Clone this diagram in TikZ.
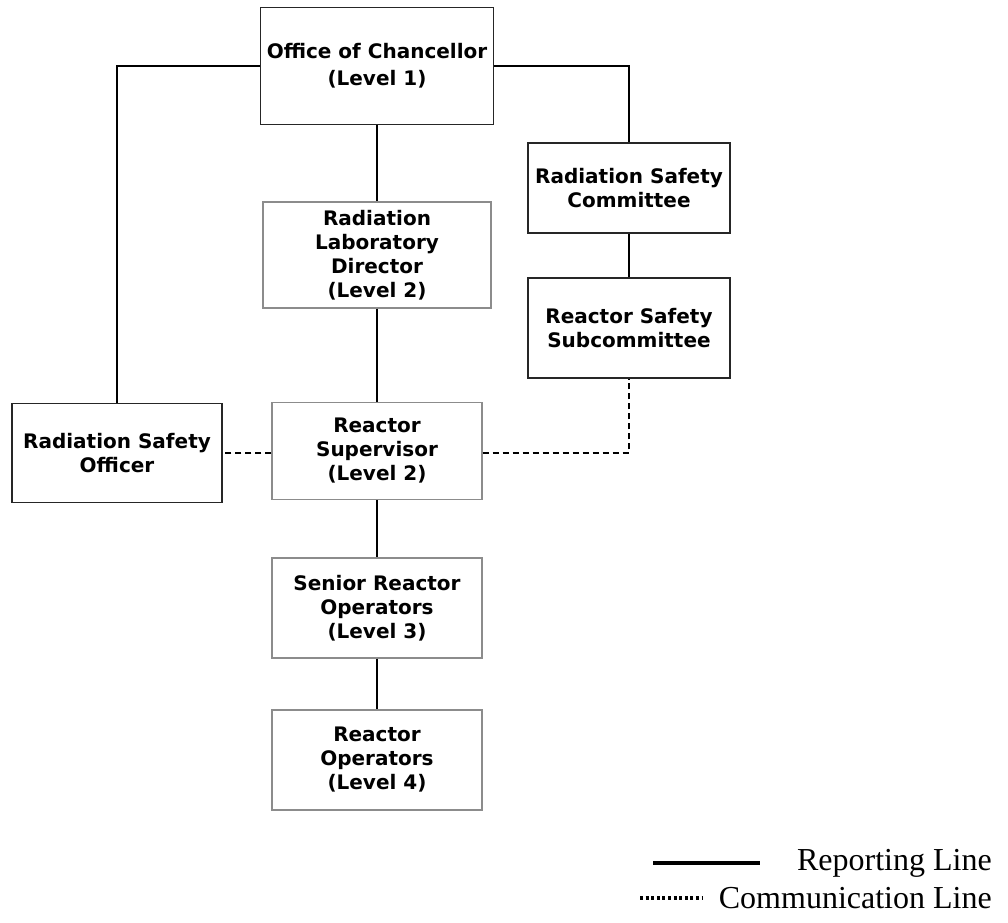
\documentclass[tikz,border=0pt]{standalone}
\usepackage{fontspec}
\setmainfont{Liberation Serif}
\newfontfamily\unitfont{DejaVu Sans}
\usetikzlibrary{positioning}

\begin{document}
\begin{tikzpicture}[x=0.75pt,y=-0.75pt,
    unit/.style={draw=black!85, line width=1pt, inner sep=0pt, align=center,
        font=\unitfont\bfseries\fontsize{15}{18}\selectfont},
    greyunit/.style={unit, draw=black!45},
    report/.style={line width=1pt},
    liaison/.style={line width=1pt, dash pattern=on 4.5pt off 3pt},
    legendtext/.style={anchor=east, inner sep=0pt, font=\fontsize{24}{26}\selectfont}
]
\useasboundingbox (0,0) rectangle (1008,923);

% boxes
\node[unit, minimum width=174.75pt, minimum height=87.75pt,
      font=\unitfont\bfseries\fontsize{15}{20}\selectfont] (chancellor) at (377,66)
    {Office of Chancellor\\(Level 1)};
\node[greyunit, minimum width=171pt, minimum height=79.5pt] (director) at (377,255)
    {Radiation\\Laboratory\\Director\\(Level 2)};
\node[unit, minimum width=151.5pt, minimum height=67.5pt] (committee) at (629,188)
    {Radiation Safety\\Committee};
\node[unit, minimum width=151.5pt, minimum height=75pt] (subcommittee) at (629,328)
    {Reactor Safety\\Subcommittee};
\node[unit, minimum width=157.5pt, minimum height=74.25pt] (officer) at (117,453)
    {Radiation Safety\\Officer};
\node[greyunit, minimum width=157.5pt, minimum height=72.75pt] (supervisor) at (377,451)
    {Reactor\\Supervisor\\(Level 2)};
\node[greyunit, minimum width=157.5pt, minimum height=75pt] (senior) at (377,608)
    {Senior Reactor\\Operators\\(Level 3)};
\node[greyunit, minimum width=157.5pt, minimum height=75pt] (operators) at (377,760)
    {Reactor\\Operators\\(Level 4)};

% reporting lines
\draw[report] (chancellor.west) -| (officer.north);
\draw[report] (chancellor.east) -| (committee.north);
\draw[report] (chancellor) -- (director);
\draw[report] (director) -- (supervisor);
\draw[report] (committee) -- (subcommittee);
\draw[report] (supervisor) -- (senior);
\draw[report] (senior) -- (operators);

% communication lines
\draw[liaison] (supervisor.west |- officer.east) -- (officer.east);
\draw[liaison] (supervisor.east |- officer.east) -| (subcommittee.south);

% legend
\node[legendtext] (replabel) at (992,863) {Reporting Line};
\node[legendtext] (comlabel) at (992,898) {Communication Line};
\coordinate (repstart) at (653,863);
\coordinate (comstart) at (640,898);
\draw[line width=2.5pt] (repstart) -- (repstart -| 760,0);
\draw[line width=2.5pt, dash pattern=on 2.2pt off 2pt] (comstart) -- (comstart -| 702,0);
\end{tikzpicture}
\end{document}
